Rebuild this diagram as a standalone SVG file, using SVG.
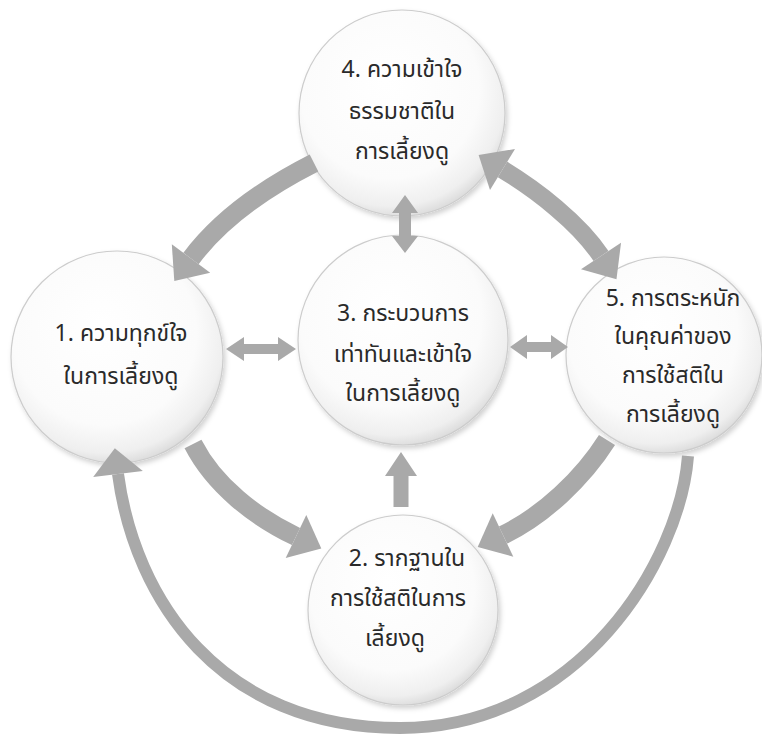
<svg xmlns="http://www.w3.org/2000/svg" width="762" height="740" viewBox="0 0 762 740">
  <defs>
    <radialGradient id="sphere" cx="0.45" cy="0.4" r="0.62" fx="0.42" fy="0.35">
      <stop offset="0" stop-color="#ffffff"/>
      <stop offset="0.7" stop-color="#fbfbfb"/>
      <stop offset="0.9" stop-color="#efefef"/>
      <stop offset="1" stop-color="#d9d9d9"/>
    </radialGradient>
    <filter id="shadow" x="-20%" y="-20%" width="140%" height="140%">
      <feDropShadow dx="2" dy="3" stdDeviation="2.5" flood-color="#000" flood-opacity="0.18"/>
    </filter>
  </defs>
  <style>
    .ball { fill: url(#sphere); stroke: #cccccc; stroke-width: 1.2; filter: url(#shadow); }
    .label { font-family: "Noto Sans Thai", "Noto Sans", "DejaVu Sans", sans-serif; font-size: 23px; fill: #2a2a2a; text-anchor: middle; }
    .stem { fill: none; stroke: #a9a9a9; }
    .head { fill: #a9a9a9; }
  </style>
  <rect width="762" height="740" fill="#ffffff"/>

  <!-- nodes -->
  <g id="node4">
    <circle class="ball" cx="402" cy="113" r="103"/>
    <text class="label" x="402" y="77">4. ความเข้าใจ</text>
    <text class="label" x="402" y="119">ธรรมชาติใน</text>
    <text class="label" x="402" y="159">การเลี้ยงดู</text>
  </g>
  <g id="node1">
    <circle class="ball" cx="117" cy="357" r="106"/>
    <text class="label" x="121" y="341">1. ความทุกข์ใจ</text>
    <text class="label" x="121" y="384">ในการเลี้ยงดู</text>
  </g>
  <g id="node3">
    <circle class="ball" cx="403" cy="340" r="105"/>
    <text class="label" x="403" y="321">3. กระบวนการ</text>
    <text class="label" x="403" y="362">เท่าทันและเข้าใจ</text>
    <text class="label" x="403" y="401">ในการเลี้ยงดู</text>
  </g>
  <g id="node5">
    <circle class="ball" cx="664" cy="355" r="98"/>
    <text class="label" x="673" y="306">5. การตระหนัก</text>
    <text class="label" x="673" y="344">ในคุณค่าของ</text>
    <text class="label" x="673" y="383">การใช้สติใน</text>
    <text class="label" x="673" y="422">การเลี้ยงดู</text>
  </g>
  <g id="node2">
    <circle class="ball" cx="403" cy="610" r="95"/>
    <text class="label" x="407" y="566">2. รากฐานใน</text>
    <text class="label" x="398" y="606">การใช้สติในการ</text>
    <text class="label" x="395" y="646">เลี้ยงดู</text>
  </g>

  <!-- connectors -->
  <g id="connectors">
    <!-- 4 -> 1 -->
    <path class="stem" stroke-width="19" d="M314 163 Q231 205 191 258.5"/>
    <polygon class="head" points="174.3,281 210.2,272.8 171.8,244.2"/>
    <!-- 4 <-> 5 -->
    <path class="stem" stroke-width="18" d="M502.5 169.5 C536.7 190.3 578.8 222.7 601 256"/>
    <polygon class="head" points="478.6,154.9 515,149 490,190"/>
    <polygon class="head" points="616.5,279.3 621,242.7 581,269.3"/>
    <!-- 1 -> 2 -->
    <path class="stem" stroke-width="19" d="M193 444 C214.6 486 255.4 517.1 296 536.5"/>
    <polygon class="head" points="321.3,548.6 285.7,558.1 306.3,514.9"/>
    <!-- 5 -> 2 -->
    <path class="stem" stroke-width="19" d="M607 440 C583 478 543.6 515.6 503 535"/>
    <polygon class="head" points="477.7,547 513.3,556.7 492.7,513.3"/>
    <!-- 5 -> 1 (outer loop) -->
    <path class="stem" stroke-width="12" d="M688 456 C680 560 580 728 400 728 C220 728 135 600 118 474"/>
    <polygon class="head" points="114.8,448.2 142.8,470.9 93.2,477.1"/>
    <!-- 1 <-> 3 -->
    <polygon class="head" points="226,349 244,337 244,344 278,344 278,337 296,349 278,361 278,354 244,354 244,361"/>
    <!-- 3 <-> 5 -->
    <polygon class="head" points="510,347 527,335 527,342 551,342 551,335 568,347 551,359 551,352 527,352 527,359"/>
    <!-- 4 <-> 3 -->
    <polygon class="head" points="405,195 418,213 411,213 411,236 418,236 405,253 392,236 399,236 399,213 392,213"/>
    <!-- 2 -> 3 -->
    <polygon class="head" points="401,452 417,476 408.5,476 408.5,507 393.5,507 393.5,476 385,476"/>
  </g>
</svg>
